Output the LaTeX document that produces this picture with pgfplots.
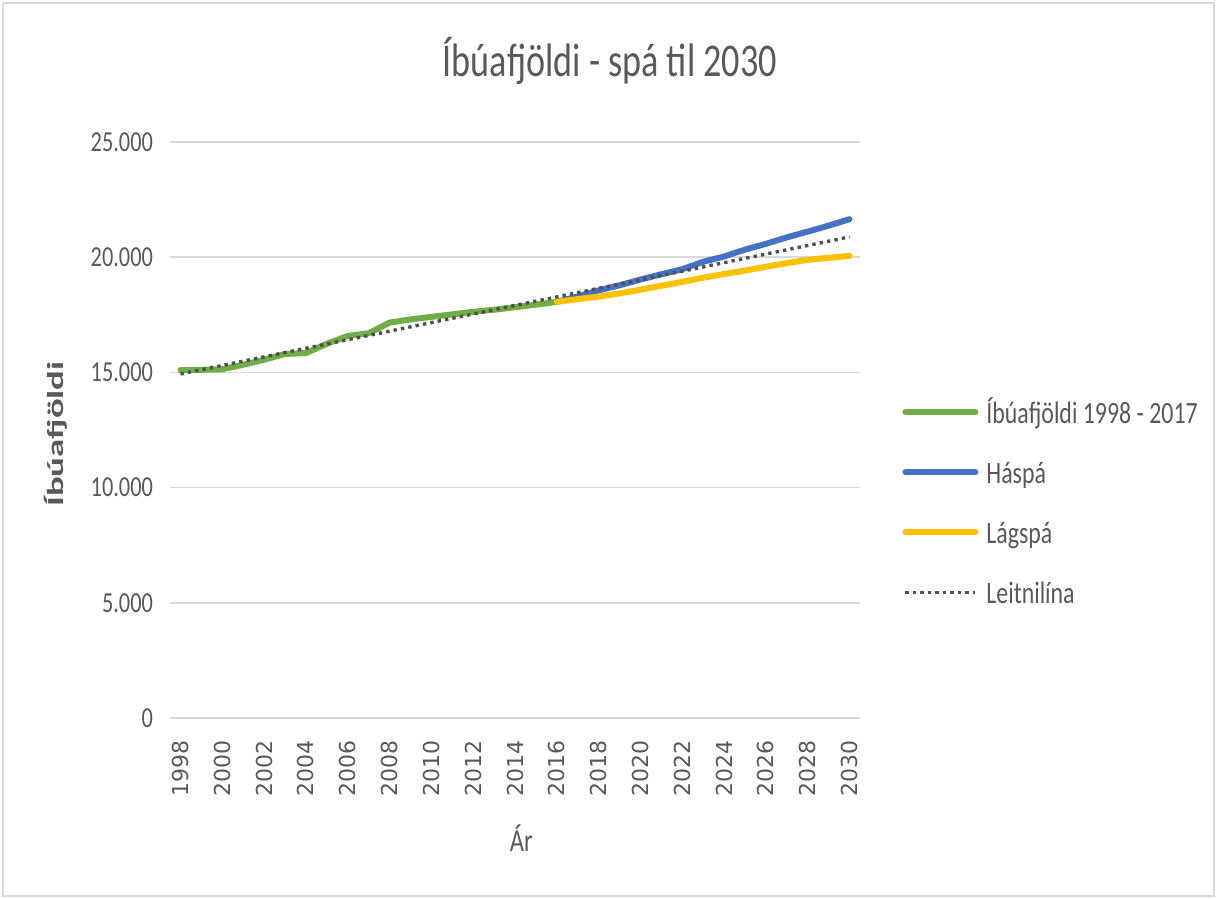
\documentclass[border=0pt]{standalone}
\usepackage{fontspec}
\setmainfont{Carlito}[FakeStretch=0.77]
\newfontfamily\rotfont{Carlito}[FakeStretch=1.6]
\newfontfamily\xtickfont{DejaVu Sans}
\usepackage{pgfplots}
\pgfplotsset{compat=1.18}
\definecolor{txt}{HTML}{595959}
\definecolor{gridc}{HTML}{D9D9D9}
\definecolor{cgreen}{HTML}{70AD47}
\definecolor{cblue}{HTML}{4472C4}
\definecolor{cyellow}{HTML}{FFC000}
\definecolor{ctrend}{HTML}{505050}
\begin{document}
\begin{tikzpicture}
\path[use as bounding box] (-85pt,-90.5pt) rectangle (523.5pt,359pt);
\draw[gridc, line width=0.75pt] (-83.5pt,-89pt) rectangle (522pt,357.5pt);
\begin{axis}[
  at={(0,0)}, anchor=south west,
  scale only axis, width=345pt, height=288pt,
  xmin=1997.5, xmax=2030.5, ymin=0, ymax=25000,
  xtick={1998,2000,...,2030},
  ytick={0,5000,...,25000},
  scaled y ticks=false,
  axis line style={draw=none},
  ymajorgrids, grid style={gridc, line width=0.75pt},
  major tick length=0pt,
  xticklabel style={font=\xtickfont\fontsize{11}{13}\selectfont, text=txt, yshift=-7.5pt, rotate=90, anchor=east, /pgf/number format/1000 sep={}, /pgf/number format/assume math mode=true},
  yticklabel style={font=\fontsize{14.5}{17}\selectfont, text=txt, xshift=-5pt, /pgf/number format/1000 sep={.}, /pgf/number format/assume math mode=true},
  title={Íbúafjöldi - spá til 2030},
  title style={at={(axis description cs:0.6377,1.0932)}, anchor=base, font=\fontsize{23.5}{28}\selectfont, text=txt},
  ylabel={Íbúafjöldi},
  ylabel style={at={(axis description cs:-0.166,0.493)}, anchor=center, font=\rotfont\bfseries\fontsize{11.5}{13}\selectfont, text=txt},
  xlabel={Ár},
  xlabel style={at={(axis description cs:0.509,-0.208)}, anchor=center, font=\fontsize{16}{19}\selectfont, text=txt},
  legend cell align=left,
  legend image code/.code={\draw[#1] (0pt,1pt) -- (35pt,1pt);},
  legend style={at={(axis description cs:1.0609,0.5538)}, anchor=north west, draw=none, fill=none, inner sep=0pt,
    row sep=15pt, font=\fontsize{15.5}{19}\selectfont, text=txt,
    nodes={inner sep=0pt, text height=12pt, text depth=3pt},
    /tikz/every odd column/.append style={column sep=4pt}},
]
\addplot[cgreen, line width=3pt, line cap=round, line join=round] coordinates {
(1998,15100) (1999,15110) (2000,15140) (2001,15330) (2002,15550) (2003,15800) (2004,15840)
(2005,16240) (2006,16580) (2007,16700) (2008,17160) (2009,17300) (2010,17410) (2011,17520)
(2012,17630) (2013,17720) (2014,17830) (2015,17940) (2016,18060)};
\addlegendentry{Íbúafjöldi 1998 - 2017}
\addplot[cblue, line width=3pt, line cap=round, line join=round] coordinates {
(2016,18060) (2017,18300) (2018,18560) (2019,18780) (2020,19030) (2021,19260) (2022,19480)
(2023,19800) (2024,20030) (2025,20330) (2026,20580) (2027,20860) (2028,21110) (2029,21370) (2030,21650)};
\addlegendentry{Háspá}
\addplot[cyellow, line width=3pt, line cap=round, line join=round] coordinates {
(2016,18060) (2017,18180) (2018,18290) (2019,18430) (2020,18590) (2021,18760) (2022,18930)
(2023,19110) (2024,19270) (2025,19420) (2026,19590) (2027,19740) (2028,19890) (2029,19970) (2030,20060)};
\addlegendentry{Lágspá}
\addplot[ctrend, line width=1.7pt, dash pattern=on 1.7pt off 2.05pt] coordinates {
(1998,14930) (2030,20880)};
\addlegendentry{Leitnilína}
\end{axis}
\end{tikzpicture}
\end{document}
